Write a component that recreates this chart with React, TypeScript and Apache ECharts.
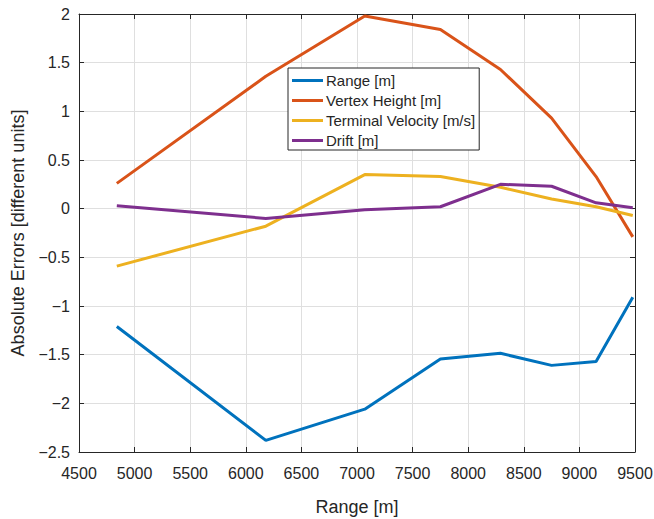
import React, { useEffect, useRef } from "react";
import * as echarts from "echarts";

const rangeX = [4840, 6180, 7070, 7750, 8290, 8750, 9150, 9480];
const rangeErr = [-1.21, -2.38, -2.06, -1.545, -1.486, -1.61, -1.57, -0.91];
const vertexErr = [0.26, 1.36, 1.98, 1.84, 1.43, 0.93, 0.33, -0.29];
const velocityErr = [-0.59, -0.18, 0.35, 0.33, 0.22, 0.1, 0.02, -0.07];
const driftErr = [0.03, -0.1, -0.01, 0.02, 0.25, 0.23, 0.06, 0.01];
const seriesNames = ["Range [m]", "Vertex Height [m]", "Terminal Velocity [m/s]", "Drift [m]"];
const colors = ["#0072BD", "#D95319", "#EDB120", "#7E2F8E"];

const FONT = "Liberation Sans, Helvetica, Arial, sans-serif";
const TXT = "#262626";

const fmt = (v: number) => {
  const s = String(Math.abs(v));
  return v < 0 ? "\u2212" + s : s;
};

export default function App() {
  const ref = useRef<HTMLDivElement>(null);
  useEffect(() => {
    if (!ref.current) return;
    const chart = echarts.init(ref.current, undefined, { renderer: "svg" });
    const all = [rangeErr, vertexErr, velocityErr, driftErr];
    const axisLine = { show: true, onZero: false, lineStyle: { color: TXT, width: 1 } };
    const tick = { show: true, inside: true, length: 5, lineStyle: { color: TXT } };
    chart.setOption({
      animation: false,
      textStyle: { fontFamily: FONT },
      grid: { left: 79, top: 14, right: 19, bottom: 67, containLabel: false, outerBoundsMode: "none" },
      legend: {
        orient: "vertical",
        left: 288,
        top: 68,
        data: seriesNames,
        icon: "rect",
        itemWidth: 31,
        itemHeight: 3,
        itemGap: 5,
        padding: [5, 4, 2, 4],
        borderColor: TXT,
        borderWidth: 1,
        backgroundColor: "#fff",
        textStyle: { fontFamily: FONT, fontSize: 15, color: TXT, padding: [0, 0, 0, -2] },
      },
      xAxis: [
        {
          type: "value",
          min: 4500,
          max: 9500,
          interval: 500,
          name: "Range [m]",
          nameLocation: "middle",
          nameGap: 46,
          nameTextStyle: { fontFamily: FONT, fontSize: 18, color: TXT },
          axisLine,
          axisTick: tick,
          axisLabel: { fontFamily: FONT, fontSize: 16, color: TXT, margin: 13, formatter: fmt },
          splitLine: { show: true, lineStyle: { color: "#dfdfdf", width: 1 } },
        },
        {
          type: "value",
          position: "top",
          min: 4500,
          max: 9500,
          interval: 500,
          axisLine,
          axisTick: tick,
          axisLabel: { show: false },
          splitLine: { show: false },
        },
      ],
      yAxis: [
        {
          type: "value",
          min: -2.5,
          max: 2,
          interval: 0.5,
          name: "Absolute Errors [different units]",
          nameLocation: "middle",
          nameGap: 52,
          nameTextStyle: { fontFamily: FONT, fontSize: 18, color: TXT },
          axisLine,
          axisTick: tick,
          axisLabel: { fontFamily: FONT, fontSize: 16, color: TXT, margin: 9, formatter: fmt },
          splitLine: { show: true, lineStyle: { color: "#dfdfdf", width: 1 } },
        },
        {
          type: "value",
          position: "right",
          min: -2.5,
          max: 2,
          interval: 0.5,
          axisLine,
          axisTick: tick,
          axisLabel: { show: false },
          splitLine: { show: false },
        },
      ],
      series: seriesNames.map((name, i) => ({
        name,
        type: "line",
        symbol: "none",
        data: rangeX.map((x, j) => [x, all[i][j]]),
        lineStyle: { color: colors[i], width: 3 },
        itemStyle: { color: colors[i] },
      })),
    });
    return () => chart.dispose();
  }, []);
  return <div ref={ref} style={{ width: 654, height: 519, position: "absolute", left: 0, top: 0 }} />;
}
